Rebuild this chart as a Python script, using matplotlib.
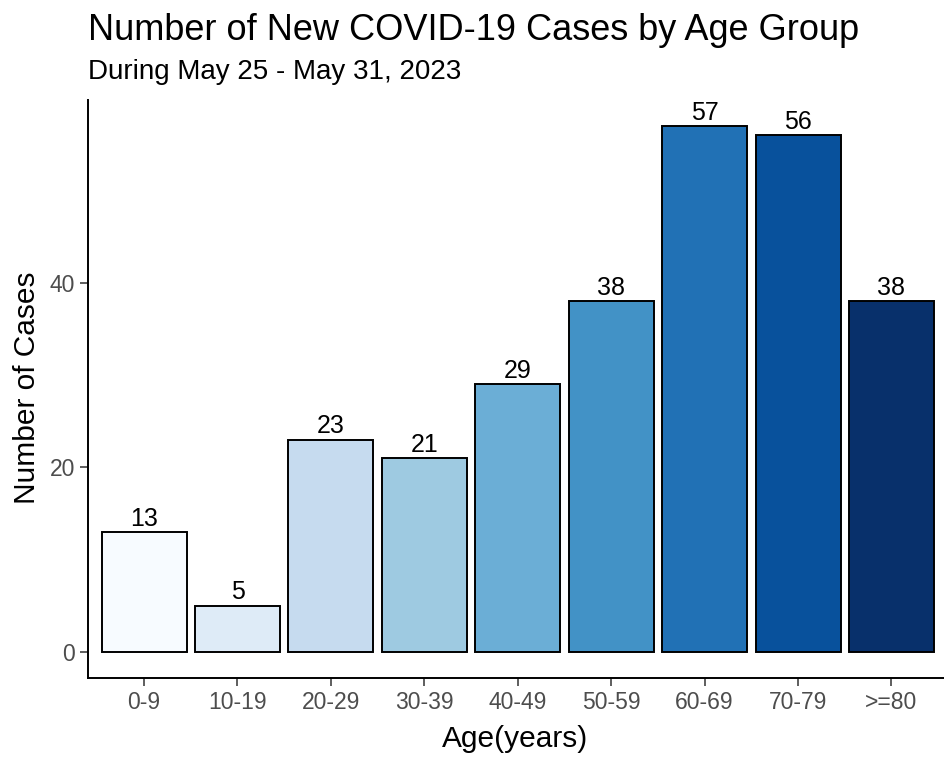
import matplotlib.pyplot as plt

plt.rcParams['font.family'] = ['Liberation Sans', 'DejaVu Sans']

age_groups = ["0-9", "10-19", "20-29", "30-39", "40-49", "50-59", "60-69", "70-79", ">=80"]
cases = [13, 5, 23, 21, 29, 38, 57, 56, 38]
bar_colors = ["#F7FBFF", "#DEEBF7", "#C6DBEF", "#9ECAE1", "#6BAED6",
              "#4292C6", "#2171B5", "#08519C", "#08306B"]
y_ticks = [0, 20, 40]

W, H = 944, 759
fig = plt.figure(figsize=(W / 100, H / 100), dpi=100)
# axes box in pixels: left 88, right ~947, top 100, bottom 678
ax_w, ax_h = 947.5 - 88, 678 - 100
ax = fig.add_axes([88 / W, 1 - 678 / H, ax_w / W, ax_h / H])

x = list(range(len(age_groups)))
ax.bar(x, cases, width=0.91, color=bar_colors, edgecolor="black", linewidth=1.4)
for xi, v in zip(x, cases):
    ax.text(xi, v + 0.15, str(v), ha="center", va="bottom", fontsize=18, color="black")

ymax = max(cases)
ax.set_ylim(-0.05 * ymax, 1.05 * ymax)
ax.set_xlim(-0.6, len(age_groups) - 1 + 0.6)
ax.set_xticks(x)
ax.set_xticklabels(age_groups)
ax.set_yticks(y_ticks)

for s in ["top", "right"]:
    ax.spines[s].set_visible(False)
for s in ["left", "bottom"]:
    ax.spines[s].set_linewidth(1.4)
    ax.spines[s].set_color("black")
ax.tick_params(axis="both", colors="#333333", labelcolor="#4D4D4D", labelsize=16.5,
               length=5.5, width=1.1, pad=4)

ax.set_xlabel("Age(years)", fontsize=21.5, va="center")
ax.xaxis.set_label_coords((515 - 88) / ax_w, (678 - 739) / ax_h)
ax.set_ylabel("Number of Cases", fontsize=21.5, va="center")
ax.yaxis.set_label_coords((27 - 88) / ax_w, (678 - 388) / ax_h)

fig.text(88 / W, 1 - 30 / H, "Number of New COVID-19 Cases by Age Group",
         fontsize=26, ha="left", va="center")
fig.text(88 / W, 1 - 72 / H, "During May 25 - May 31, 2023",
         fontsize=20, ha="left", va="center")

fig.savefig("out.png", dpi=100)
